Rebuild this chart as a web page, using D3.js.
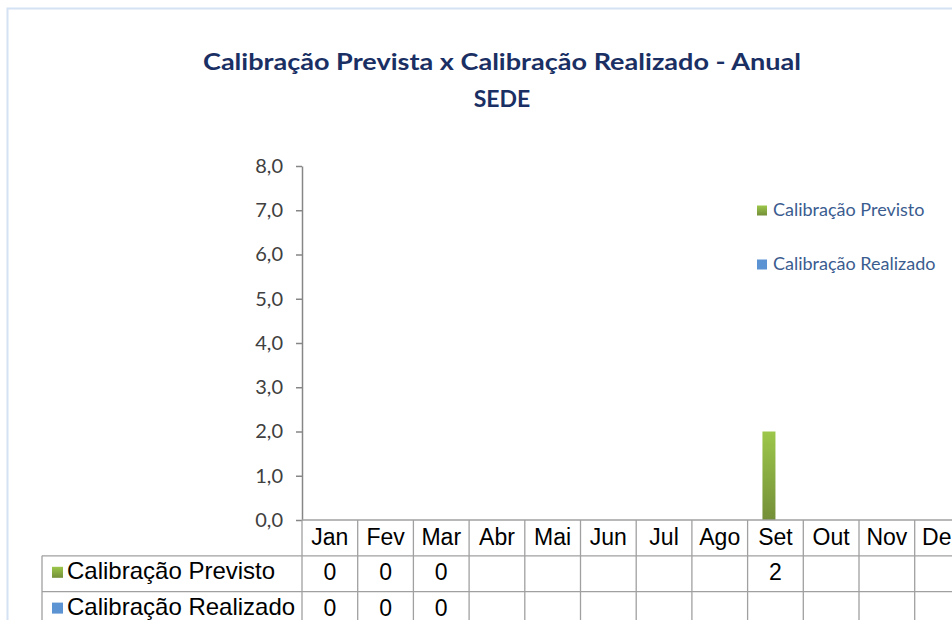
<!DOCTYPE html>
<html>
<head>
<meta charset="utf-8">
<script src="https://cdn.jsdelivr.net/npm/d3@7"></script>
<style>
  body { margin: 0; background: #fff; }
  svg { display: block; }
  .yAxis text { font-family: Lato, "Open Sans", sans-serif; font-size: 20px; fill: #404040; }
  .yAxis path, .yAxis line { stroke: #868686; }
  .cell { font-family: "Liberation Sans", Arial, sans-serif; font-size: 23px; fill: #000; }
  .rowLabel { font-size: 24px; }
  .grid { stroke: #A0A0A0; stroke-width: 1.3; }
</style>
</head>
<body>
<svg id="chart" width="952" height="620"></svg>
<script>
/* ==== Data ==== */
var months = ["Jan", "Fev", "Mar", "Abr", "Mai", "Jun", "Jul", "Ago", "Set", "Out", "Nov", "Dez"];
var seriesNames = ["Calibração Previsto", "Calibração Realizado"];
var previsto = [0, 0, 0, null, null, null, null, null, 2, null, null, null];
var realizado = [0, 0, 0, null, null, null, null, null, null, null, null, null];
var yTicks = [0, 1, 2, 3, 4, 5, 6, 7, 8];
var seriesColors = ["#8DB33F", "#5B93D3"];

var seriesValues = [previsto, realizado];

/* ==== Layout ==== */
var PLOT_LEFT = 302;
var COL_W = 55.7;
var PLOT_TOP = 166;
var PLOT_BOTTOM = 520;
var ROW_H = 35.8;
var TABLE_LEFT = 42;
var GROUP_W = 26;

var svg = d3.select("#chart");

// gradient for the green bar
var defs = svg.append("defs");
var grad = defs.append("linearGradient").attr("id", "gradGreen")
  .attr("x1", 0).attr("y1", 0).attr("x2", 0).attr("y2", 1);
grad.append("stop").attr("offset", "0%").attr("stop-color", "#9CC74A");
grad.append("stop").attr("offset", "100%").attr("stop-color", "#748F39");

// chart frame
svg.append("rect")
  .attr("x", 7.5).attr("y", 8.5)
  .attr("width", 1000).attr("height", 700)
  .attr("fill", "none").attr("stroke", "#D5E2F3").attr("stroke-width", 2);

/* ==== Title ==== */
svg.append("text")
  .attr("x", 502).attr("y", 70)
  .attr("text-anchor", "middle")
  .attr("textLength", 598).attr("lengthAdjust", "spacingAndGlyphs")
  .style("font-family", "Lato, 'Open Sans', sans-serif")
  .style("font-weight", "bold").style("font-size", "23px").style("fill", "#1A2F63")
  .text("Calibração Prevista x Calibração Realizado - Anual");
svg.append("text")
  .attr("x", 502).attr("y", 107)
  .attr("text-anchor", "middle")
  .style("font-family", "Lato, 'Open Sans', sans-serif")
  .style("font-weight", "bold").style("font-size", "23px").style("fill", "#1A2F63")
  .text("SEDE");

/* ==== Scales ==== */
var x = d3.scaleBand().domain(months).range([PLOT_LEFT, PLOT_LEFT + COL_W * months.length]);
var xs = d3.scaleBand().domain(seriesNames).range([0, GROUP_W]);
var y = d3.scaleLinear().domain([0, 8]).range([PLOT_BOTTOM, PLOT_TOP]);

/* ==== Y Axis ==== */
var yAxis = svg.append("g")
  .attr("class", "yAxis")
  .attr("transform", "translate(" + PLOT_LEFT + ",0)")
  .call(d3.axisLeft(y).tickValues(yTicks).tickSize(6).tickSizeOuter(0).tickPadding(13)
    .tickFormat(function(d) { return d.toFixed(1).replace(".", ","); }));
yAxis.selectAll("path, line").attr("stroke-width", 1.5);

/* ==== Bars ==== */
var bars = [];
seriesNames.forEach(function(s, si) {
  months.forEach(function(m, mi) {
    var v = seriesValues[si][mi];
    if (v) bars.push({ month: m, series: s, value: v, si: si });
  });
});

svg.append("g").attr("class", "bars")
  .selectAll("rect")
  .data(bars)
  .enter()
  .append("rect")
  .attr("x", function(d) { return x(d.month) + (x.bandwidth() - GROUP_W) / 2 + xs(d.series); })
  .attr("width", xs.bandwidth())
  .attr("y", function(d) { return y(d.value); })
  .attr("height", function(d) { return y(0) - y(d.value); })
  .attr("fill", function(d) { return d.si === 0 ? "url(#gradGreen)" : seriesColors[1]; });

/* ==== Legend ==== */
var legend = svg.append("g").attr("class", "legend")
  .selectAll("g")
  .data(seriesNames)
  .enter()
  .append("g")
  .attr("transform", function(d, i) { return "translate(757," + (205.5 + i * 54) + ")"; });
legend.append("rect")
  .attr("width", 10).attr("height", 10)
  .attr("fill", function(d, i) { return i === 0 ? "url(#gradGreen)" : seriesColors[1]; });
legend.append("text")
  .attr("x", 16).attr("y", 10)
  .style("font-family", "Lato, 'Open Sans', sans-serif")
  .style("font-size", "18px").style("fill", "#3B5C8F")
  .text(function(d) { return d; });

/* ==== Data Table ==== */
var tableRight = PLOT_LEFT + COL_W * months.length;
var table = svg.append("g").attr("class", "table");

// horizontal lines
table.append("line").attr("class", "grid")
  .attr("x1", PLOT_LEFT).attr("x2", tableRight)
  .attr("y1", PLOT_BOTTOM).attr("y2", PLOT_BOTTOM);
[1, 2, 3].forEach(function(r) {
  table.append("line").attr("class", "grid")
    .attr("x1", TABLE_LEFT).attr("x2", tableRight)
    .attr("y1", PLOT_BOTTOM + r * ROW_H).attr("y2", PLOT_BOTTOM + r * ROW_H);
});
// vertical lines
table.selectAll(".vline")
  .data(months.concat(["end"]))
  .enter()
  .append("line").attr("class", "grid")
  .attr("x1", function(d, i) { return PLOT_LEFT + i * COL_W; })
  .attr("x2", function(d, i) { return PLOT_LEFT + i * COL_W; })
  .attr("y1", PLOT_BOTTOM).attr("y2", 640);
table.append("line").attr("class", "grid")
  .attr("x1", TABLE_LEFT).attr("x2", TABLE_LEFT)
  .attr("y1", PLOT_BOTTOM + ROW_H).attr("y2", 640);

// header labels
table.selectAll(".hdr")
  .data(months)
  .enter()
  .append("text").attr("class", "cell")
  .attr("x", function(d) { return x(d) + x.bandwidth() / 2; })
  .attr("y", PLOT_BOTTOM + 25)
  .attr("text-anchor", "middle")
  .text(function(d) { return d; });

// rows
seriesNames.forEach(function(s, si) {
  var ry = PLOT_BOTTOM + (si + 1) * ROW_H;
  table.append("rect")
    .attr("x", 52).attr("y", ry + 11).attr("width", 11).attr("height", 11)
    .attr("fill", si === 0 ? "url(#gradGreen)" : seriesColors[1]);
  table.append("text").attr("class", "cell rowLabel")
    .attr("x", 67).attr("y", ry + 23)
    .text(s);
  var cells = months.map(function(m, mi) { return { month: m, value: seriesValues[si][mi] }; })
    .filter(function(d) { return d.value !== null; });
  table.selectAll(".v" + si)
    .data(cells)
    .enter()
    .append("text").attr("class", "cell")
    .attr("x", function(d) { return x(d.month) + x.bandwidth() / 2; })
    .attr("y", ry + 24)
    .attr("text-anchor", "middle")
    .text(function(d) { return d.value; });
});
</script>
</body>
</html>
